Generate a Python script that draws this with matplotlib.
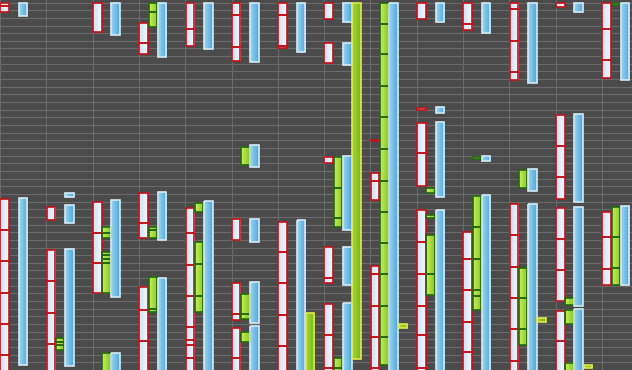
import matplotlib
matplotlib.use('Agg')
import matplotlib.pyplot as plt
import numpy as np
from matplotlib.colors import LinearSegmentedColormap

# Range bars per column (minutes). Each inner list is one bar: its segment boundaries.
white_bars = [
    [[0, 7, 19], [385, 446, 507, 569, 630, 691, 730]],
    [[401, 426], [485, 546, 608, 669, 730]],
    [[0, 58], [391, 452, 510, 569]],
    [[40, 79, 101], [373, 432, 461], [558, 603, 663, 730]],
    [[0, 52, 85], [403, 452, 514, 575, 636, 661, 671, 697, 730]],
    [[0, 24, 87, 115], [424, 465], [550, 610, 622], [638, 697, 730]],
    [[0, 24, 85, 89], [430, 489, 550, 612, 673, 730]],
    [[0, 32], [79, 118], [303, 315], [479, 540, 550], [591, 652, 716, 730]],
    [[269, 272], [334, 350, 387], [516, 532, 595, 656, 716, 730]],
    [[0, 32], [207, 211], [236, 295, 360], [407, 469, 532, 595, 652, 716, 730]],
    [[0, 42, 54], [450, 503, 563, 626, 685, 730]],
    [[0, 13, 75, 136, 152], [395, 456, 518, 579, 640, 703, 730]],
    [[0, 9], [220, 281, 342, 385], [403, 463, 524, 585], [605, 663, 730]],
    [[0, 52, 113, 148], [411, 460, 522, 554]],
]
green_bars = [
    [],
    [[657, 665, 671, 681]],
    [[440, 452, 461], [489, 495, 503, 510, 569], [687, 730]],
    [[0, 19, 48], [440, 446, 461], [538, 601, 607]],
    [[393, 411], [469, 512, 575, 607]],
    [[283, 318], [571, 610, 620], [646, 665]],
    [],
    [[303, 363, 422, 440], [697, 716, 730]],
    [[0, 42, 101, 164, 224, 287, 350, 411, 471, 532, 595, 656, 710]],
    [[363, 373], [416, 422], [456, 532, 573]],
    [[303, 306], [379, 440, 503, 563, 575, 603]],
    [[328, 363], [520, 579, 640, 671]],
    [[579, 593], [603, 630], [706, 730]],
    [[0, 5], [401, 460, 520, 554]],
]
blue_bars = [
    [[0, 26], [383, 710]],
    [[373, 381], [397, 432], [483, 712]],
    [[0, 64], [387, 577], [687, 730]],
    [[0, 107], [371, 465], [540, 730]],
    [[0, 91], [389, 730]],
    [[0, 117], [279, 322], [424, 469], [548, 628], [634, 730]],
    [[0, 97], [426, 730]],
    [[0, 38], [79, 122], [301, 446], [479, 554], [589, 730]],
    [[0, 730]],
    [[0, 38], [205, 216], [234, 381], [407, 730]],
    [[0, 60], [301, 311], [377, 730]],
    [[0, 158], [326, 369], [395, 730]],
    [[0, 19], [218, 391], [401, 595], [601, 730]],
    [[0, 152], [399, 554]],
]
yellow_bars = [
    [], [], [], [], [], [],
    [[608, 730]],
    [[0, 699]],
    [[630, 638]],
    [], [],
    [[618, 626]],
    [[710, 716]],
    [],
]

# (bars, gradient left, gradient right, edge colour)
series = [
    (white_bars, '#cfdff3', '#f6f9fd', '#c4121a'),
    (green_bars, '#c6ee5c', '#86c826', '#25680e'),
    (blue_bars, '#9ad4f0', '#4fa8da', '#d4eaf6'),
    (yellow_bars, '#a2d83a', '#78b81e', '#e4e64c'),
]

width = 0.185
grad = np.linspace(0, 1, 32).reshape(1, -1)

fig = plt.figure(figsize=(6.32, 3.70), dpi=100)
ax = fig.add_axes([0, 0, 1, 1])
ax.set_facecolor('#4b4b4b')

for i, (bars, left, right, edge) in enumerate(series):
    cmap = LinearSegmentedColormap.from_list('g%d' % i, [left, right])
    for col, pieces in enumerate(bars):
        x = col + 0.1 + 0.2 * i
        for piece in pieces:
            rect = ax.bar(x, piece[-1] - piece[0], bottom=piece[0], width=width,
                          color='none', edgecolor='none', zorder=3)[0]
            im = ax.imshow(grad, cmap=cmap, aspect='auto', zorder=3,
                           extent=[x - width / 2, x + width / 2, piece[-1], piece[0]])
            im.set_clip_path(rect)
            for a, b in zip(piece[:-1], piece[1:]):
                ax.bar(x, b - a, bottom=a, width=width, color='none',
                       edgecolor=edge, linewidth=1.2, zorder=4)

ax.set_xlim(0, 632 / 46.3)
ax.set_ylim(720, -5)
ax.set_xticks(range(0, 14))
ax.set_yticks(range(0, 721, 15))
ax.grid(True, color='#6a6a6a', linewidth=0.8, zorder=0)
ax.set_axisbelow(True)
ax.tick_params(length=0, labelbottom=False, labelleft=False)
for s in ax.spines.values():
    s.set_visible(False)

fig.savefig('out.png', dpi=100)
